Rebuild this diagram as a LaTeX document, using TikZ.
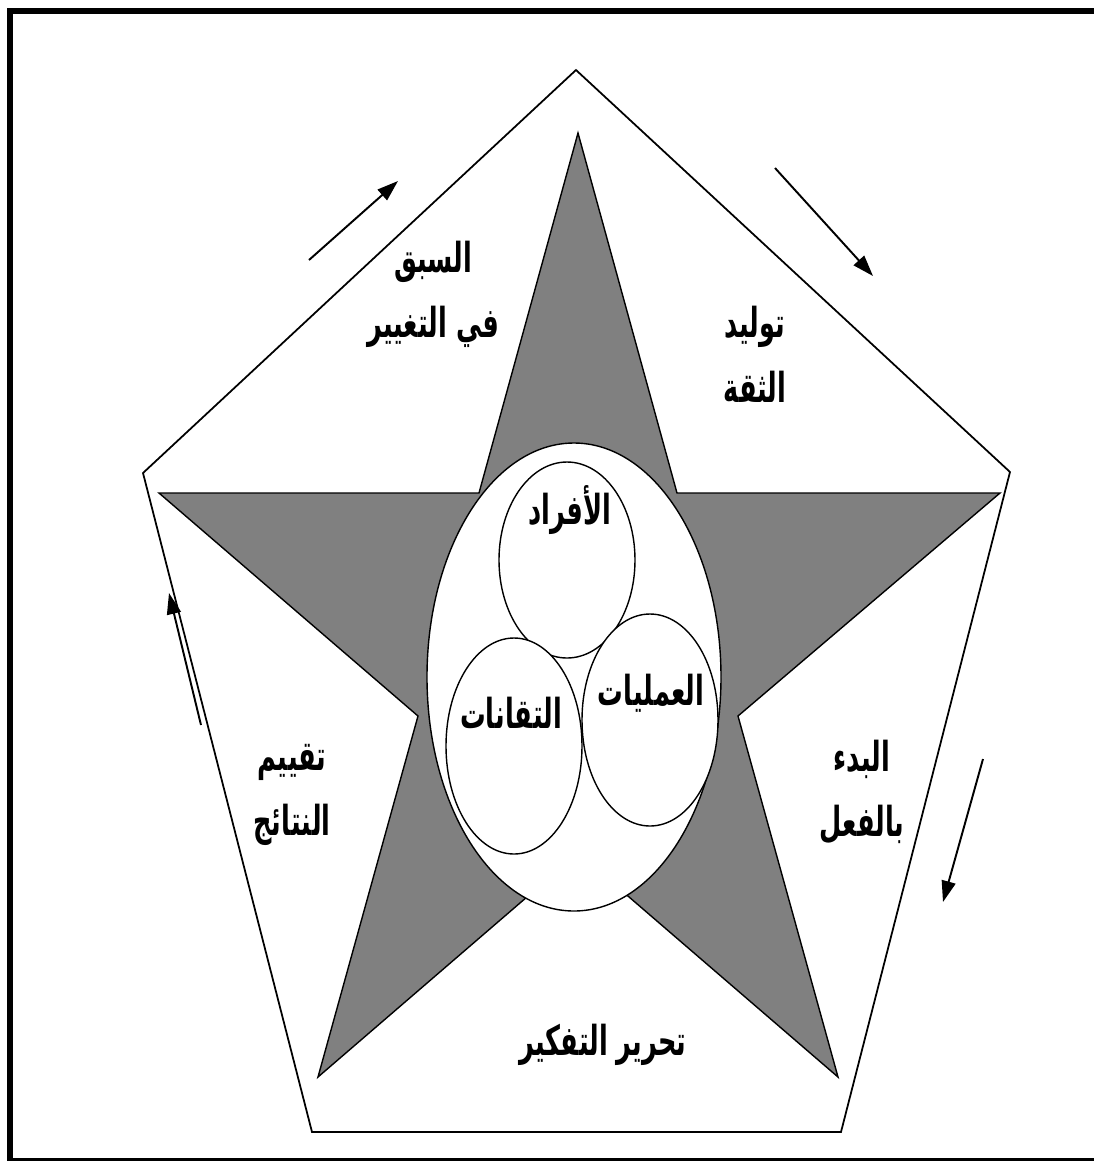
\documentclass[tikz,border=0pt]{standalone}
\usepackage{fontspec}
\usepackage{xcolor}
\usepackage{graphicx}
\usepackage{tikz}
\usetikzlibrary{arrows.meta}
\newfontfamily\arabicfont[Script=Arabic]{DejaVu Sans}
\TeXXeTstate=1
\definecolor{stargray}{RGB}{128,128,128}
\newcommand{\rtl}[1]{\scalebox{0.62}[1]{\beginR #1\endR}}

\begin{document}
\begin{tikzpicture}[x=0.02cm, y=-0.02cm,
  frame/.style={line width=3.4pt, draw=black},
  pent/.style={line width=1pt, draw=black, fill=white},
  star/.style={line width=0.8pt, draw=black, fill=stargray},
  bubble/.style={line width=0.8pt, draw=black, fill=white},
  arrow/.style={-{Triangle[length=12pt,width=8pt]}, line width=1.1pt, color=black},
  word/.style={font=\arabicfont\bfseries\fontsize{23.5}{37}\selectfont, align=center, inner sep=0pt}
]
  \useasboundingbox (0,0) rectangle (1094,1161);
  \clip (0,0) rectangle (1094,1161);
  \draw[frame] (10,11) rectangle (1130,1161);

  \draw[pent] (576,70) -- (1010,472) -- (841,1132) -- (312,1132) -- (143,473) -- cycle;
  \filldraw[star] (578,133) -- (677,493) -- (1000,493) -- (738,716) -- (838,1077)
    -- (578,853) -- (318,1077) -- (418,716) -- (159,493) -- (479,493) -- cycle;

  \draw[bubble] (574,677) ellipse [x radius=147, y radius=234];
  \draw[bubble] (567,560) ellipse [x radius=68, y radius=98];
  \draw[bubble] (650,720) ellipse [x radius=68, y radius=106];
  \draw[bubble] (514,746) ellipse [x radius=68, y radius=108];

  \node[word] (people)  at (570,510) {\rtl{الأفراد}};
  \node[word] (process) at (651,693) {\rtl{العمليات}};
  \node[word] (techno)  at (511,713) {\rtl{التقانات}};

  \node[word] (lead)    at (433,294) {\rtl{السبق}\\\rtl{في التغيير}};
  \node[word] (trust)   at (755,354) {\rtl{توليد}\\\rtl{الثقة}};
  \node[word] (start)   at (862,792) {\rtl{البدء}\\\rtl{بالفعل}};
  \node[word] (free)    at (603,1045) {\rtl{تحرير التفكير}};
  \node[word] (assess)  at (292,795) {\rtl{تقييم}\\\rtl{النتائج}};

  \coordinate (upL0) at (309,260);  \coordinate (upL1) at (398,181);
  \coordinate (upR0) at (775,168);  \coordinate (upR1) at (873,276);
  \coordinate (dnR0) at (983,759);  \coordinate (dnR1) at (943,902);
  \coordinate (upW0) at (201,725);  \coordinate (upW1) at (169,593);

  \draw[arrow] (upL0) -- (upL1);
  \draw[arrow] (upR0) -- (upR1);
  \draw[arrow] (dnR0) -- (dnR1);
  \draw[arrow] (upW0) -- (upW1);
\end{tikzpicture}
\end{document}
